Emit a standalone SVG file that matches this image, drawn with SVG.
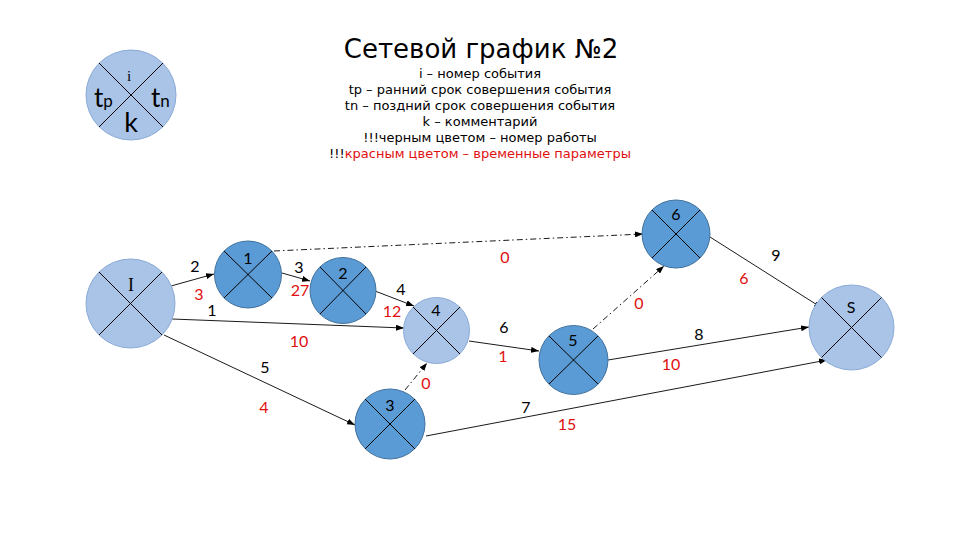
<svg xmlns="http://www.w3.org/2000/svg" width="960" height="540" viewBox="0 0 960 540">
<style>
.light{fill:#a9c4e7;stroke:#8aaad6;stroke-width:1}
.dark{fill:#5b9bd5;stroke:#41719c;stroke-width:1}
.x{stroke:#000;stroke-width:1;fill:none}
.c{stroke:#000;stroke-width:0.9;fill:none;marker-end:url(#ah)}
.d{stroke:#000;stroke-width:0.9;fill:none;stroke-dasharray:6 3 1.5 3;marker-end:url(#ah)}
.n{font-family:Lato,"Open Sans",sans-serif;font-size:16px;fill:#000;text-anchor:middle}
.r{font-family:Lato,"Open Sans",sans-serif;font-size:16px;fill:#e01010;text-anchor:middle}
.t{font-family:"DejaVu Sans",sans-serif;fill:#000;text-anchor:middle}
</style>
<defs>
<marker id="ah" markerWidth="8" markerHeight="6" refX="8" refY="3" orient="auto" markerUnits="userSpaceOnUse">
<path d="M0,0 L8,3 L0,6 z" fill="#000"/>
</marker>
</defs>
<rect width="960" height="540" fill="#fff"/>

<g id="title">
<text class="t" x="481" y="58" font-size="26">Сетевой график №2</text>
<text class="t" x="480" y="78" font-size="13">i – номер события</text>
<text class="t" x="480" y="94" font-size="13">tp – ранний срок совершения события</text>
<text class="t" x="480" y="110" font-size="13">tn – поздний срок совершения события</text>
<text class="t" x="480" y="126" font-size="13">k – комментарий</text>
<text class="t" x="480" y="142" font-size="13">!!!черным цветом – номер работы</text>
<text class="t" x="480" y="158" font-size="13">!!!<tspan fill="#e01010">красным цветом – временные параметры</tspan></text>
</g>

<g id="legend">
<circle class="light" cx="131" cy="95" r="45"/>
<path class="x" d="M99,63 L163,127 M163,63 L99,127"/>
<text x="129" y="81" font-family="'Liberation Serif',serif" font-size="15" text-anchor="middle">i</text>
<text x="94" y="107" font-family="Lato,sans-serif" font-size="26">t<tspan font-size="17">p</tspan></text>
<text x="151" y="107" font-family="Lato,sans-serif" font-size="26">t<tspan font-size="17">n</tspan></text>
<text x="131" y="132" font-family="Lato,sans-serif" font-size="27" text-anchor="middle">k</text>
</g>

<g id="connectors">
<line class="c" x1="171" y1="286" x2="214" y2="274"/>
<line class="c" x1="282" y1="273" x2="310" y2="281"/>
<line class="d" x1="274" y1="251" x2="643" y2="234"/>
<line class="c" x1="375" y1="291" x2="414" y2="306"/>
<line class="c" x1="172" y1="319" x2="404" y2="328"/>
<line class="c" x1="164" y1="335" x2="355" y2="425"/>
<line class="d" x1="405" y1="390" x2="427" y2="363"/>
<line class="c" x1="469" y1="341" x2="539" y2="351"/>
<line class="c" x1="426" y1="436" x2="827" y2="360"/>
<line class="c" x1="608" y1="360" x2="809" y2="327"/>
<line class="d" x1="593" y1="329" x2="664" y2="266"/>
<line class="c" x1="710" y1="237" x2="822" y2="308"/>
</g>

<g id="node-I">
<circle class="light" cx="130.5" cy="303.5" r="44.5"/>
<path class="x" d="M99,272 L162,335 M162,272 L99,335"/>
<text x="131" y="291" font-family="'Liberation Serif',serif" font-size="18" text-anchor="middle">I</text>
</g>
<g id="node-1">
<circle class="dark" cx="248" cy="274.5" r="33.5"/>
<path class="x" d="M224,251 L272,298 M272,251 L224,298"/>
<text class="n" x="248" y="264">1</text>
</g>
<g id="node-2">
<circle class="dark" cx="343" cy="290.5" r="33"/>
<path class="x" d="M320,267 L366,314 M366,267 L320,314"/>
<text class="n" x="343" y="279">2</text>
</g>
<g id="node-4">
<circle class="light" cx="436.5" cy="330.5" r="33"/>
<path class="x" d="M413,307 L460,354 M460,307 L413,354"/>
<text class="n" x="436" y="316">4</text>
</g>
<g id="node-3">
<circle class="dark" cx="390" cy="424" r="35"/>
<path class="x" d="M365,399 L415,449 M415,399 L365,449"/>
<text class="n" x="390" y="411">3</text>
</g>
<g id="node-5">
<circle class="dark" cx="573.5" cy="360" r="34.5"/>
<path class="x" d="M549,336 L598,384 M598,336 L549,384"/>
<text class="n" x="573" y="346">5</text>
</g>
<g id="node-6">
<circle class="dark" cx="676" cy="234" r="34"/>
<path class="x" d="M652,210 L700,258 M700,210 L652,258"/>
<text class="n" x="676" y="220">6</text>
</g>
<g id="node-S">
<circle class="light" cx="851.5" cy="327.5" r="42.5"/>
<path class="x" d="M821.5,297.5 L881.5,357.5 M881.5,297.5 L821.5,357.5"/>
<text class="n" x="851" y="313">S</text>
</g>

<g id="labels">
<text class="n" x="195" y="272">2</text>
<text class="r" x="199" y="300">3</text>
<text class="n" x="299" y="273">3</text>
<text class="r" x="300" y="296">27</text>
<text class="n" x="401" y="295">4</text>
<text class="r" x="392" y="317">12</text>
<text class="n" x="212" y="316">1</text>
<text class="r" x="299" y="347">10</text>
<text class="n" x="265" y="373">5</text>
<text class="r" x="264" y="413">4</text>
<text class="n" x="504" y="333">6</text>
<text class="r" x="503" y="362">1</text>
<text class="r" x="426" y="389">0</text>
<text class="n" x="526" y="413">7</text>
<text class="r" x="567" y="430">15</text>
<text class="r" x="639" y="309">0</text>
<text class="r" x="505" y="263">0</text>
<text class="n" x="776" y="261">9</text>
<text class="r" x="744" y="284">6</text>
<text class="n" x="699" y="340">8</text>
<text class="r" x="671" y="370">10</text>
</g>
</svg>
